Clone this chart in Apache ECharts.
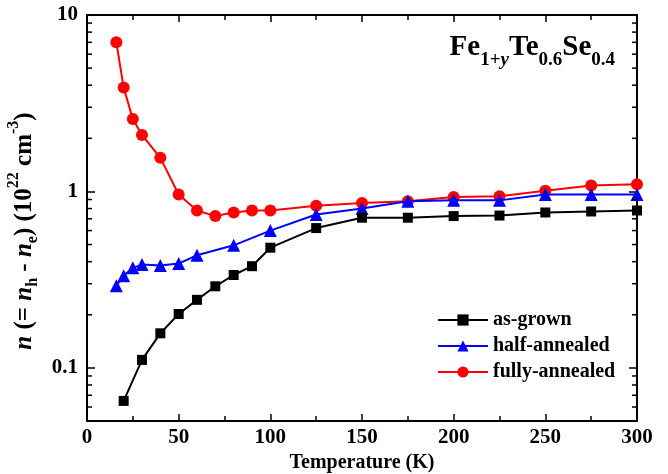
<!DOCTYPE html>
<html>
<head>
<meta charset="utf-8">
<script src="https://cdn.jsdelivr.net/npm/echarts@6/dist/echarts.min.js"></script>
<style>html,body{margin:0;padding:0;background:#fff}#c{width:668px;height:474px}</style>
</head>
<body>
<div id="c"></div>
<script>
const temps = [16, 20, 25, 30, 40, 50, 60, 70, 80, 90, 100, 125, 150, 175, 200, 225, 250, 275, 300];
const asGrownT = [20, 30, 40, 50, 60, 70, 80, 90, 100, 125, 150, 175, 200, 225, 250, 275, 300];
const asGrown = [0.065, 0.111, 0.157, 0.202, 0.243, 0.29, 0.336, 0.377, 0.48, 0.62, 0.71, 0.71, 0.725, 0.73, 0.76, 0.77, 0.78];
const halfT = [16, 20, 25, 30, 40, 50, 60, 80, 100, 125, 150, 175, 200, 225, 250, 275, 300];
const halfAnnealed = [0.292, 0.333, 0.369, 0.385, 0.38, 0.39, 0.435, 0.495, 0.6, 0.74, 0.80, 0.88, 0.89, 0.89, 0.96, 0.96, 0.96];
const fullyT = temps;
const fullyAnnealed = [7.0, 3.88, 2.57, 2.09, 1.55, 0.96, 0.78, 0.725, 0.76, 0.78, 0.78, 0.83, 0.86, 0.88, 0.93, 0.94, 1.01, 1.08, 1.1];
const yMinorTicks = [0.06,0.07,0.08,0.09,0.2,0.3,0.4,0.5,0.6,0.7,0.8,0.9,2,3,4,5,6,7,8,9];
const xTickLabels = [0, 50, 100, 150, 200, 250, 300];

const FONT = '"Liberation Serif", "Times New Roman", serif';
const zip = (xs, ys) => xs.map((x, i) => [x, ys[i]]);

const chart = echarts.init(document.getElementById('c'));
const axisLine = {show: true, onZero: false, lineStyle: {color: '#000', width: 2}};
const yMin = 0.05, yMax = 10;

const option = {
  animation: false,
  backgroundColor: '#fff',
  grid: {left: 87, right: 31, top: 15, bottom: 53, containLabel: false, outerBoundsMode: 'none'},
  title: {
    right: 48, top: 28,
    text: '{a|Fe}{s|1+}{si|y}{a|Te}{s|0.6}{a|Se}{s|0.4}',
    textStyle: {
      rich: {
        a: {fontFamily: FONT, fontWeight: 'bold', fontSize: 29, color: '#000', verticalAlign: 'bottom', lineHeight: 37, padding: [0,0,8,0]},
        s: {fontFamily: FONT, fontWeight: 'bold', fontSize: 19, color: '#000', verticalAlign: 'bottom', lineHeight: 37},
        si: {fontFamily: FONT, fontWeight: 'bold', fontStyle: 'italic', fontSize: 19, color: '#000', verticalAlign: 'bottom', lineHeight: 37}
      }
    }
  },
  legend: {
    orient: 'vertical', left: 432, top: 305, itemWidth: 50, itemHeight: 14, itemGap: 6,
    data: ['as-grown', 'half-annealed', 'fully-annealed'],
    textStyle: {fontFamily: FONT, fontWeight: 'bold', fontSize: 20, color: '#000'}
  },
  xAxis: [{
    type: 'value', min: 0, max: 300, interval: 50, position: 'bottom',
    name: 'Temperature (K)', nameLocation: 'middle', nameGap: 32,
    nameTextStyle: {fontFamily: FONT, fontWeight: 'bold', fontSize: 20, color: '#000'},
    axisLine: axisLine,
    axisTick: {show: true, inside: true, length: 7, lineStyle: {color: '#000', width: 1.5}},
    minorTick: {show: true, splitNumber: 2, length: 5, lineStyle: {color: '#000', width: 1.5}},
    splitLine: {show: false},
    axisLabel: {fontFamily: FONT, fontWeight: 'bold', fontSize: 21, color: '#000', margin: 6,
      formatter: v => xTickLabels.includes(v) ? String(v) : ''}
  }, {
    type: 'value', min: 0, max: 300, interval: 50, position: 'top',
    axisLine: axisLine,
    axisTick: {show: true, inside: true, length: 7, lineStyle: {color: '#000', width: 1.5}},
    minorTick: {show: true, splitNumber: 2, length: 5, lineStyle: {color: '#000', width: 1.5}},
    splitLine: {show: false}, axisLabel: {show: false}
  }],
  yAxis: [{
    type: 'log', min: yMin, max: yMax, position: 'left',
    name: '{i|n}{r| (= }{i|n}{sub|h}{r| - }{i|n}{sub|e}{r|) (10}{sup|22}{r| cm}{sup|-3}{end|)}',
    nameLocation: 'middle', nameGap: 37, nameRotate: 90,
    nameTextStyle: {
      rich: {
        r: {fontFamily: FONT, fontWeight: 'bold', fontSize: 25, color: '#000', verticalAlign: 'bottom', lineHeight: 33, padding: [0,0,4,0]},
        end: {fontFamily: FONT, fontWeight: 'bold', fontSize: 25, color: '#000', verticalAlign: 'bottom', lineHeight: 33, padding: [0,26,4,0]},
        i: {fontFamily: FONT, fontWeight: 'bold', fontStyle: 'italic', fontSize: 25, color: '#000', verticalAlign: 'bottom', lineHeight: 33, padding: [0,0,4,0]},
        sub: {fontFamily: FONT, fontWeight: 'bold', fontSize: 16, color: '#000', verticalAlign: 'bottom', lineHeight: 33},
        sup: {fontFamily: FONT, fontWeight: 'bold', fontSize: 16, color: '#000', verticalAlign: 'bottom', lineHeight: 33, padding: [0,0,19,0]}
      }
    },
    axisLine: axisLine,
    axisTick: {show: true, inside: true, length: 8, lineStyle: {color: '#000', width: 1.5}},
    splitLine: {show: false},
    axisLabel: {fontFamily: FONT, fontWeight: 'bold', fontSize: 21, color: '#000', margin: 9, showMinLabel: false,
      formatter: v => (Math.abs(Math.log10(v) - Math.round(Math.log10(v))) < 1e-6) ? String(v) : ''}
  }, {
    type: 'log', min: yMin, max: yMax, position: 'right',
    axisLine: axisLine,
    axisTick: {show: true, inside: true, length: 8, lineStyle: {color: '#000', width: 1.5}},
    splitLine: {show: false}, axisLabel: {show: false}
  }],
  series: [
    {
      name: 'as-grown', type: 'line', data: zip(asGrownT, asGrown), z: 4,
      symbol: 'rect', symbolSize: 10, color: '#000',
      lineStyle: {color: '#000', width: 2}, itemStyle: {color: '#000'}
    },
    {
      name: 'half-annealed', type: 'line', data: zip(halfT, halfAnnealed), z: 3,
      symbol: 'triangle', symbolSize: 13, color: '#0000ff',
      lineStyle: {color: '#0000ff', width: 2}, itemStyle: {color: '#0000ff'}
    },
    {
      name: 'fully-annealed', type: 'line', data: zip(fullyT, fullyAnnealed), z: 2,
      symbol: 'circle', symbolSize: 12, color: '#ff0000',
      lineStyle: {color: '#ff0000', width: 2}, itemStyle: {color: '#ff0000'}
    },
    {
      type: 'custom', silent: true, clip: false, z: 5,
      data: yMinorTicks.map(v => [0, v]),
      renderItem: function (params, api) {
        const cs = params.coordSys;
        const y = api.coord([0, api.value(1)])[1];
        const style = {stroke: '#000', lineWidth: 1.5};
        return {type: 'group', children: [
          {type: 'line', shape: {x1: cs.x, y1: y, x2: cs.x + 5, y2: y}, style: style},
          {type: 'line', shape: {x1: cs.x + cs.width, y1: y, x2: cs.x + cs.width - 5, y2: y}, style: style}
        ]};
      }
    }
  ]
};
chart.setOption(option);
</script>
</body>
</html>
